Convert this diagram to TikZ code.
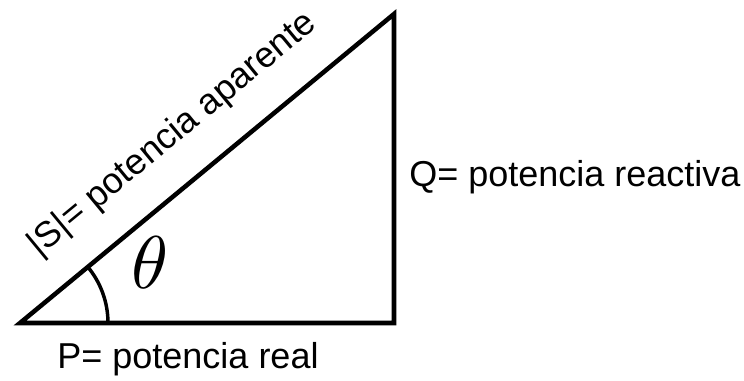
\documentclass[tikz,border=0pt]{standalone}
\usepackage{fontspec}
\setmainfont{Liberation Sans}
\begin{document}
\begin{tikzpicture}[x=0.75pt, y=-0.75pt,
    side/.style={line width=3.4pt, line join=miter},
    lbl/.style={font=\fontsize{27}{32}\selectfont, inner sep=0pt}]
  \useasboundingbox (0,0) rectangle (744,381);

  % Corners
  \coordinate (A) at (20,323);
  \coordinate (B) at (394,323);
  \coordinate (C) at (394,14);

  % Triangle
  \draw[side] (A) -- (B) -- (C) -- cycle;

  % Angle
  \draw[line width=2.6pt] ([shift={(0:88)}]A) arc[start angle=0, end angle=-39.6, radius=88];
  \node[scale=5.6] (theta) at (150,263) {$\theta$};

  % Labels
  \path (A) -- (C) node[lbl, pos=0.49, sloped, above=23pt] (S) {|S|= potencia aparente};
  \node[lbl, anchor=base west] (Q) at (409,187) {Q= potencia reactiva};
  \node[lbl, anchor=base] (P) at (188,369) {P= potencia real};
\end{tikzpicture}
\end{document}
